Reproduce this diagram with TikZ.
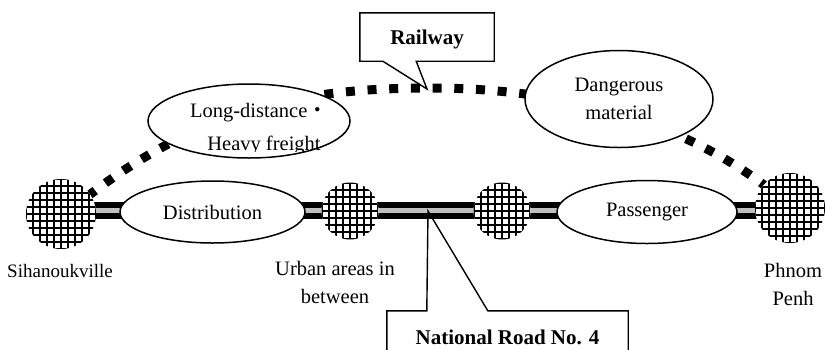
\documentclass[tikz,border=0pt]{standalone}
\usepackage{fontspec}
\setmainfont{Liberation Serif}
\newfontfamily\cjkfont{Noto Sans CJK SC}
\usetikzlibrary{shapes.geometric}

\tikzset{
  town/.style={circle, inner sep=0pt, minimum size=#1, fill=white,
    path picture={\draw[line width=1.7pt, step=7pt] (path picture bounding box.south west) grid (path picture bounding box.north east);}},
  use/.style={ellipse, draw, line width=1.5pt, fill=white, inner sep=0pt},
  placename/.style={inner sep=0pt, align=center},
  callout/.style={draw, line width=1.4pt},
  calloutbox/.style={inner sep=0pt, font=\fontsize{21}{28}\selectfont\bfseries}
}

\begin{document}
\begin{tikzpicture}[x=1pt, y=-1pt, font=\fontsize{20.5}{28}\selectfont]
\useasboundingbox (0,0) rectangle (826,349);

% Fixed points
\coordinate (roadW) at (61,210.5);
\coordinate (roadE) at (790,210.5);
\coordinate (railW) at (88,196);
\coordinate (railE) at (768,188);
\coordinate (railtip) at (427,89);
\coordinate (roadtip) at (428,211);

% Draw road
\draw[line width=17pt] (roadW) -- (roadE);
\draw[line width=5.5pt, black!25] (roadW) -- (roadE);

% Draw railway
\draw[line width=9pt, dash pattern=on 9pt off 12.7pt] (railW) .. controls (200,110) and (300,88) .. (430,88) .. controls (560,88) and (680,120) .. (railE);

% Draw uses
\node[use, minimum width=185pt, minimum height=62pt] (distribution) at (212.5,212) {Distribution};
\node[use, minimum width=180pt, minimum height=63pt] (passenger) at (647,212) {Passenger};
\node[use, minimum width=202pt, minimum height=74pt] (freight) at (249,121) {};
\node[use, minimum width=188pt, minimum height=97pt, align=center] (danger) at (619,99) {Dangerous\\material};

% Freight text, cut off at the bottom
\begin{scope}
  \clip (150,80) rectangle (350,151.5);
  \node[anchor=base, inner sep=0pt] (freightA) at (259,117) {Long-distance{\cjkfont ・}};
  \node[anchor=base, inner sep=0pt] (freightB) at (264,150) {Heavy freight};
\end{scope}

% Draw towns
\node[town=70pt] (sihanouk) at (61,214) {};
\node[town=57pt] (urbanA) at (350,211) {};
\node[town=57pt] (urbanB) at (502,211) {};
\node[town=70pt] (phnom) at (790,208) {};

% Town names
\node[placename, anchor=base, font=\fontsize{19}{28}\selectfont] (sihanoukname) at (60,277) {Sihanoukville};
\node[placename, anchor=north] (urbanname) at (335,261) {Urban areas in\\between};
\node[placename, anchor=north] (phnomname) at (793,263) {Phnom\\Penh};

% Draw callouts
\node[calloutbox, minimum width=134pt, minimum height=48pt, text depth=0pt] (railbox) at (427,37) {Railway};
\draw[callout] (railbox.south west) -- (railbox.north west) -- (railbox.north east) -- (railbox.south east)
  -- ([xshift=-78pt]railbox.south east) -- (railtip) -- ([xshift=23pt]railbox.south west) -- cycle;

\node[calloutbox, minimum width=241pt, minimum height=52pt] (roadbox) at (507.5,337) {National Road No. 4};
\draw[callout] (roadbox.south west) -- (roadbox.north west) -- ([xshift=40pt]roadbox.north west)
  -- (roadtip) -- ([xshift=101pt]roadbox.north west) -- (roadbox.north east) -- (roadbox.south east);

\end{tikzpicture}
\end{document}
